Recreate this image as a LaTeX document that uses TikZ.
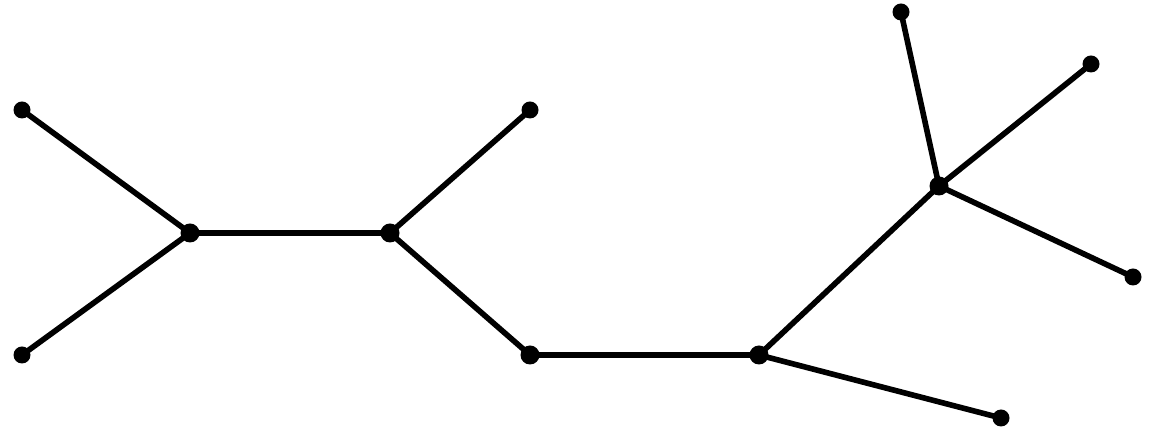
\documentclass[tikz,border=0pt]{standalone}
\usepackage{tikz}
\tikzset{
  leaf/.style={circle, fill=black, inner sep=0pt, minimum size=0.34cm},
  inner/.style={circle, fill=black, inner sep=0pt, minimum size=0.38cm},
  branch/.style={line width=3.2pt, draw=black},
}
\begin{document}
\begin{tikzpicture}
  \useasboundingbox (0,0) rectangle (23.04,8.64);
  % ---------------------------------------------------------- internal nodes
  \node[inner] (a) at (3.80,3.98) {};
  \node[inner] (b) at (7.80,3.98) {};
  \node[inner] (c) at (10.60,1.54) {};
  \node[inner] (d) at (15.18,1.54) {};
  \node[inner] (e) at (18.78,4.92) {};

  % ---------------------------------------------------------- leaves
  \node[leaf] (l1) at (0.44,6.44) {};
  \node[leaf] (l2) at (0.44,1.54) {};
  \node[leaf] (l3) at (10.60,6.44) {};
  \node[leaf] (l4) at (18.02,8.40) {};
  \node[leaf] (l5) at (21.82,7.36) {};
  \node[leaf] (l6) at (22.66,3.10) {};
  \node[leaf] (l7) at (20.02,0.28) {};

  % ---------------------------------------------------------- branches
  \draw[branch] (l1.center) -- (a.center);
  \draw[branch] (l2.center) -- (a.center);
  \draw[branch] (a.center) -- (b.center);
  \draw[branch] (b.center) -- (l3.center);
  \draw[branch] (b.center) -- (c.center);
  \draw[branch] (c.center) -- (d.center);
  \draw[branch] (d.center) -- (e.center);
  \draw[branch] (d.center) -- (l7.center);
  \draw[branch] (e.center) -- (l4.center);
  \draw[branch] (e.center) -- (l5.center);
  \draw[branch] (e.center) -- (l6.center);
\end{tikzpicture}
\end{document}
